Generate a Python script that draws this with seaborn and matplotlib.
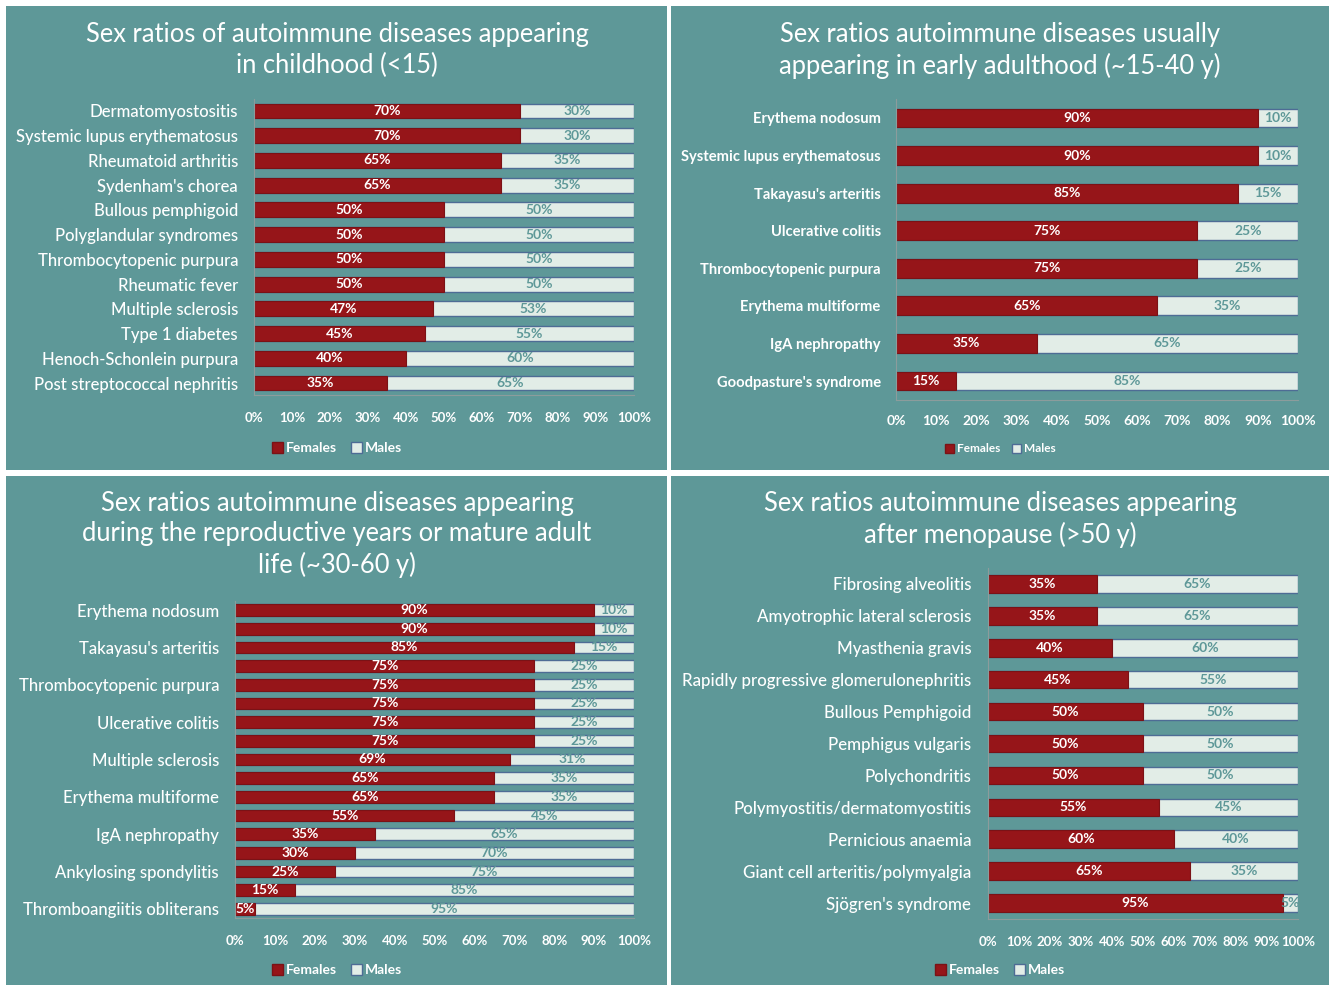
import matplotlib
matplotlib.use("Agg")
import matplotlib.pyplot as plt
from matplotlib.patches import Rectangle, Patch
import seaborn as sns
import pandas as pd
import numpy as np

sns.set_theme(style="white")
plt.rcParams['font.family'] = ['Lato', 'DejaVu Sans']

# ---------------- data ----------------
p1_title = "Sex ratios of autoimmune diseases appearing\nin childhood (<15)"
p1_cats = ["Dermatomyostositis", "Systemic lupus erythematosus", "Rheumatoid arthritis",
           "Sydenham's chorea", "Bullous pemphigoid", "Polyglandular syndromes",
           "Thrombocytopenic purpura", "Rheumatic fever", "Multiple sclerosis",
           "Type 1 diabetes", "Henoch-Schonlein purpura", "Post streptococcal nephritis"]
p1_f = [70, 70, 65, 65, 50, 50, 50, 50, 47, 45, 40, 35]
p1_m = [30, 30, 35, 35, 50, 50, 50, 50, 53, 55, 60, 65]

p2_title = "Sex ratios autoimmune diseases usually\nappearing in early adulthood (~15-40 y)"
p2_cats = ["Erythema nodosum", "Systemic lupus erythematosus", "Takayasu's arteritis",
           "Ulcerative colitis", "Thrombocytopenic purpura", "Erythema multiforme",
           "IgA nephropathy", "Goodpasture's syndrome"]
p2_f = [90, 90, 85, 75, 75, 65, 35, 15]
p2_m = [10, 10, 15, 25, 25, 35, 65, 85]

p3_title = "Sex ratios autoimmune diseases appearing\nduring the reproductive years or mature adult\nlife (~30-60 y)"
p3_cats = ["Erythema nodosum", "", "Takayasu's arteritis", "", "Thrombocytopenic purpura", "",
           "Ulcerative colitis", "", "Multiple sclerosis", "", "Erythema multiforme", "",
           "IgA nephropathy", "", "Ankylosing spondylitis", "", "Thromboangiitis obliterans"]
p3_f = [90, 90, 85, 75, 75, 75, 75, 75, 69, 65, 65, 55, 35, 30, 25, 15, 5]
p3_m = [10, 10, 15, 25, 25, 25, 25, 25, 31, 35, 35, 45, 65, 70, 75, 85, 95]

p4_title = "Sex ratios autoimmune diseases appearing\nafter menopause (>50 y)"
p4_cats = ["Fibrosing alveolitis", "Amyotrophic lateral sclerosis", "Myasthenia gravis",
           "Rapidly progressive glomerulonephritis", "Bullous Pemphigoid", "Pemphigus vulgaris",
           "Polychondritis", "Polymyostitis/dermatomyostitis", "Pernicious anaemia",
           "Giant cell arteritis/polymyalgia", "Sjögren's syndrome"]
p4_f = [35, 35, 40, 45, 50, 50, 50, 55, 60, 65, 95]
p4_m = [65, 65, 60, 55, 50, 50, 50, 45, 40, 35, 5]

xticks = [0, 10, 20, 30, 40, 50, 60, 70, 80, 90, 100]
legend_labels = ["Females", "Males"]

# ---------------- style ----------------
TEAL = "#5E9898"
RED = "#961519"
RED_EDGE = "#7A1216"
MALE = "#E2EDE7"
MALE_EDGE = "#4E6C95"
W, H = 1329, 985

fig = plt.figure(figsize=(W / 100, H / 100), dpi=100)
fig.patch.set_facecolor("white")

def frac_rect(x0, y0, x1, y1):
    return (x0 / W, 1 - y1 / H, (x1 - x0) / W, (y1 - y0) / H)

for (x0, y0, x1, y1) in [(6, 6, 667, 470), (671, 6, 1329, 470),
                         (6, 476, 667, 985), (671, 476, 1329, 985)]:
    l, b, w, h = frac_rect(x0, y0, x1, y1)
    fig.patches.append(Rectangle((l, b), w, h, transform=fig.transFigure,
                                 facecolor=TEAL, edgecolor="none", zorder=-10))


def panel(cats, fem, mal, title, axrect, title_xy, legend_y, cat_fs, cat_weight,
          bar_fs, tick_fs, leg_fs, bar_h, tick_pad, cat_pad, title_fs=18.4):
    ax = fig.add_axes(axrect)
    ax.set_zorder(2)
    ax.set_facecolor("none")
    ids = [f"r{i}" for i in range(len(cats))]
    df = pd.DataFrame({"id": ids, "f": fem, "m": mal})
    df["total"] = df["f"] + df["m"]
    sns.barplot(data=df, y="id", x="total", orient="h", color=MALE, ax=ax,
                width=bar_h, edgecolor=MALE_EDGE, linewidth=1.0, saturation=1)
    sns.barplot(data=df, y="id", x="f", orient="h", color=RED, ax=ax,
                width=bar_h, edgecolor=RED_EDGE, linewidth=0.8, saturation=1)
    # labels
    for i, (fv, mv) in enumerate(zip(fem, mal)):
        ax.text(fv / 2, i, f"{fv}%", ha="center", va="center", color="white",
                fontsize=bar_fs, fontweight="bold")
        ax.text(fv + mv / 2, i, f"{mv}%", ha="center", va="center", color=TEAL,
                fontsize=bar_fs, fontweight="bold")
    ax.set_xlim(0, 100)
    ax.set_ylim(len(cats) - 0.5, -0.5)
    ax.set_xticks(xticks)
    ax.set_xticklabels([f"{t}%" for t in xticks], fontsize=tick_fs,
                       fontweight="bold", color="white")
    ax.set_yticks(range(len(cats)))
    ax.set_yticklabels(cats, fontsize=cat_fs, color="white", fontweight=cat_weight)
    ax.tick_params(axis="x", length=0, pad=tick_pad)
    ax.tick_params(axis="y", length=0, pad=cat_pad)
    ax.set_xlabel("")
    ax.set_ylabel("")
    for s in ["top", "right"]:
        ax.spines[s].set_visible(False)
    for s in ["left", "bottom"]:
        ax.spines[s].set_color("#8C9C9C")
        ax.spines[s].set_linewidth(0.8)
    fig.text(title_xy[0] / W, 1 - title_xy[1] / H, title, ha="center", va="top",
             color="white", fontsize=title_fs, linespacing=1.27)
    handles = [Patch(facecolor=RED, edgecolor=RED_EDGE, label=legend_labels[0]),
               Patch(facecolor=MALE, edgecolor=MALE_EDGE, label=legend_labels[1])]
    fig.legend(handles=handles, loc="center", bbox_to_anchor=(title_xy[0] / W, 1 - legend_y / H),
               ncol=2, frameon=False, handlelength=0.8, handleheight=0.8,
               handletextpad=0.2, columnspacing=1.0, labelcolor="white",
               prop={"size": leg_fs, "weight": "bold"})
    return ax


def axrect(x0, x1, ytop, ybot):
    return (x0 / W, 1 - ybot / H, (x1 - x0) / W, (ybot - ytop) / H)

panel(p1_cats, p1_f, p1_m, p1_title, axrect(254, 634, 98.6, 395.4), (337, 22), 448,
      cat_fs=12, cat_weight="medium", bar_fs=10, tick_fs=9.5, leg_fs=10, bar_h=0.6,
      tick_pad=12, cat_pad=11.5)
panel(p2_cats, p2_f, p2_m, p2_title, axrect(896, 1298, 99.2, 399.8), (1000, 22), 449,
      cat_fs=10.6, cat_weight="bold", bar_fs=10, tick_fs=10, leg_fs=8.5, bar_h=0.5,
      tick_pad=11, cat_pad=11)
panel(p3_cats, p3_f, p3_m, p3_title, axrect(235, 634, 600.7, 918.3), (337, 491), 970,
      cat_fs=12, cat_weight="medium", bar_fs=10, tick_fs=9.5, leg_fs=10, bar_h=0.62,
      tick_pad=12, cat_pad=11.5)
panel(p4_cats, p4_f, p4_m, p4_title, axrect(988, 1298, 568, 919), (1000, 491), 970,
      cat_fs=12.2, cat_weight="medium", bar_fs=10, tick_fs=9.5, leg_fs=10, bar_h=0.55,
      tick_pad=12, cat_pad=12)

fig.savefig("out.png", dpi=100, facecolor=fig.get_facecolor())
